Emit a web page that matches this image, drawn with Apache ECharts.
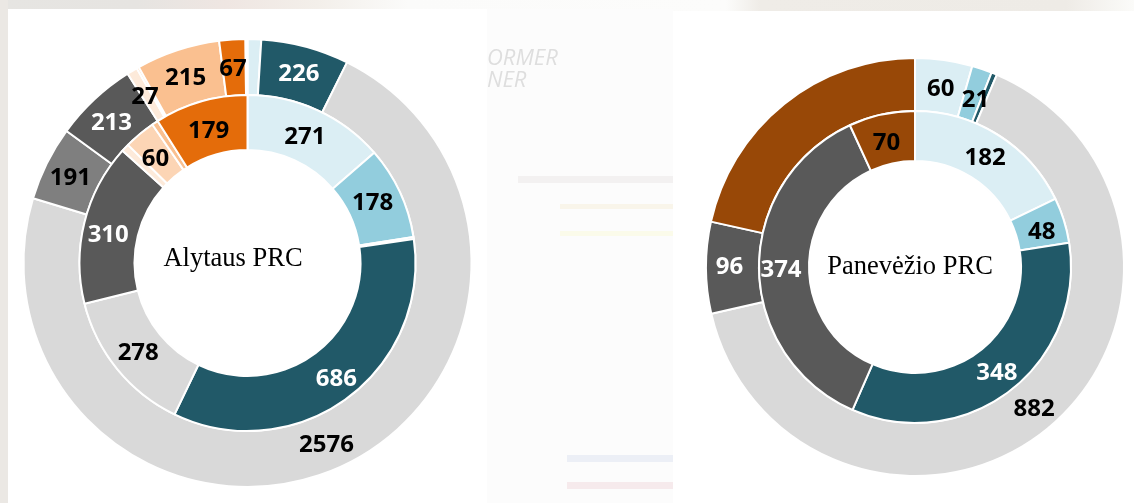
<!DOCTYPE html>
<html>
<head>
<meta charset="utf-8">
<title>PRC</title>
<script src="https://cdn.jsdelivr.net/npm/echarts@6/dist/echarts.min.js"></script>
<style>
html, body { margin: 0; padding: 0; background: #fff; }
#box { width: 1134px; height: 503px; }
</style>
</head>
<body>
<div id="box"></div>
<script>
// values, clockwise from 12 o'clock; unlabelled slivers are estimates
var alytausOuterValues = [35, 226, 2576, 191, 213, 27, 6, 215, 67, 5];
var alytausOuterLabels = ['', '226', '2576', '191', '213', '27', '', '215', '67', ''];
var alytausInnerValues = [271, 178, 4, 686, 278, 310, 15, 60, 12, 179];
var alytausInnerLabels = ['271', '178', '', '686', '278', '310', '', '60', '', '179'];
var panevezioOuterValues = [60, 21, 6, 882, 96, 292];
var panevezioOuterLabels = ['60', '21', '', '882', '96', ''];
var panevezioInnerValues = [182, 48, 348, 374, 70];
var panevezioInnerLabels = ['182', '48', '348', '374', '70'];
var chartTitles = ['Alytaus PRC', 'Panevėžio PRC'];

// office palette
var paleBlue = '#dbeef4', midBlue = '#92cddd', sliverBlue = '#b7dee8', teal = '#215968';
var lightGrey = '#d9d9d9', midGrey = '#7f7f7f', darkGrey = '#595959';
var palePeach = '#fdeada', lightPeach = '#fcd5b5', peach = '#fac090', orange = '#e46c0a', brown = '#984807';

var alytausOuterColors = [paleBlue, teal, lightGrey, midGrey, darkGrey, palePeach, lightPeach, peach, orange, brown];
var alytausInnerColors = [paleBlue, midBlue, sliverBlue, teal, lightGrey, darkGrey, palePeach, lightPeach, peach, orange];
var panevezioOuterColors = [paleBlue, midBlue, teal, lightGrey, darkGrey, brown];
var panevezioInnerColors = [paleBlue, midBlue, teal, darkGrey, brown];

var whiteLabels = ['226', '213', '686', '310', '348', '374', '96'];

// hand nudges for the labels, they do not sit exactly on the ring centre in the picture
var labelNudge = {
	'226': [0, 3], '191': [1, 4], '213': [0, 5], '27': [0, 5], '215': [0, 4], '67': [-1, 5],
	'271': [-2, 5], '178': [-5, 1], '686': [4, 0], '278': [2, 0], '310': [0, 7], '60': [0, 6], '179': [1, 6],
	'21': [1, 9], '182': [-1, 5], '48': [-1, 5], '374': [0, 2], '70': [0, 7]
};

function toData(values, labels, colors) {
	return values.map(function(v, i) {
		return {
			value: v,
			name: labels[i],
			itemStyle: { color: colors[i] },
			label: {
				show: labels[i] !== '',
				color: whiteLabels.indexOf(labels[i]) >= 0 ? '#fff' : '#000'
			}
		};
	});
}

function ring(center, radius, values, labels, colors) {
	return {
		type: 'pie',
		center: center,
		radius: radius,
		startAngle: 90,
		clockwise: true,
		avoidLabelOverlap: false,
		silent: true,
		animation: false,
		itemStyle: { borderColor: '#fff', borderWidth: 2 },
		label: {
			position: 'inside',
			formatter: '{b}',
			fontFamily: '"Open Sans"',
			fontWeight: 700,
			fontSize: 24
		},
		labelLine: { show: false },
		labelLayout: function(params) {
			var nudge = labelNudge[params.text];
			return nudge ? { dx: nudge[0], dy: nudge[1] } : {};
		},
		data: toData(values, labels, colors)
	};
}

var topStrip = {
	type: 'linear', x: 0, y: 0, x2: 1, y2: 0,
	colorStops: [
		{ offset: 0, color: '#e6e5e2' },
		{ offset: 0.12, color: '#e6e4e1' },
		{ offset: 0.2, color: '#efe6e2' },
		{ offset: 0.28, color: '#f3efea' },
		{ offset: 0.36, color: '#fbfbfa' },
		{ offset: 0.64, color: '#fcfcfb' },
		{ offset: 0.67, color: '#efece7' },
		{ offset: 0.94, color: '#eeebe6' },
		{ offset: 1, color: '#fbfbf9' }
	]
};

var myChart = echarts.init(document.getElementById('box'));

var option = {
	backgroundColor: '#fff',
	animation: false,
	title: [{
		text: chartTitles[0],
		left: 228,
		top: 241,
		textAlign: 'center',
		textStyle: { fontFamily: '"Liberation Serif"', fontWeight: 'normal', fontSize: 26.5, color: '#000' }
	}, {
		text: chartTitles[1],
		left: 905,
		top: 249,
		textAlign: 'center',
		textStyle: { fontFamily: '"Liberation Serif"', fontWeight: 'normal', fontSize: 26.5, color: '#000' }
	}],
	graphic: [
		// faded page picture around the two white panels
		{ type: 'rect', silent: true, z: -10, shape: { x: 0, y: 0, width: 1134, height: 11 }, style: { fill: topStrip } },
		{ type: 'rect', silent: true, z: -10, shape: { x: 0, y: 0, width: 8, height: 503 }, style: { fill: '#ebe8e4' } },
		{ type: 'rect', silent: true, z: -10, shape: { x: 487, y: 9, width: 186, height: 494 }, style: { fill: '#fcfcfc' } },
		{ type: 'text', silent: true, z: -9, style: { x: 487, y: 48, text: 'ORMER', fill: '#dedede', font: 'italic 22px "Open Sans"' } },
		{ type: 'text', silent: true, z: -9, style: { x: 487, y: 70, text: 'NER', fill: '#dedede', font: 'italic 22px "Open Sans"' } },
		{ type: 'rect', silent: true, z: -9, shape: { x: 518, y: 176, width: 155, height: 7 }, style: { fill: '#f3f1f1' } },
		{ type: 'rect', silent: true, z: -9, shape: { x: 560, y: 204, width: 113, height: 5 }, style: { fill: '#f9f5ea' } },
		{ type: 'rect', silent: true, z: -9, shape: { x: 560, y: 231, width: 113, height: 5 }, style: { fill: '#fbfbea' } },
		{ type: 'rect', silent: true, z: -9, shape: { x: 567, y: 455, width: 106, height: 7 }, style: { fill: '#eceff6' } },
		{ type: 'rect', silent: true, z: -9, shape: { x: 567, y: 482, width: 106, height: 7 }, style: { fill: '#f6eaec' } },
		// white panels
		{ type: 'rect', silent: true, z: -8, shape: { x: 8, y: 9, width: 479, height: 494 }, style: { fill: '#fff' } },
		{ type: 'rect', silent: true, z: -8, shape: { x: 673, y: 11, width: 461, height: 492 }, style: { fill: '#fff' } }
	],
	series: [
		ring([247.5, 263], [168, 224], alytausOuterValues, alytausOuterLabels, alytausOuterColors),
		ring([247.5, 263], [113, 168], alytausInnerValues, alytausInnerLabels, alytausInnerColors),
		ring([915, 267], [156, 209], panevezioOuterValues, panevezioOuterLabels, panevezioOuterColors),
		ring([915, 267], [106, 156], panevezioInnerValues, panevezioInnerLabels, panevezioInnerColors)
	]
};

myChart.setOption(option);
</script>
</body>
</html>
